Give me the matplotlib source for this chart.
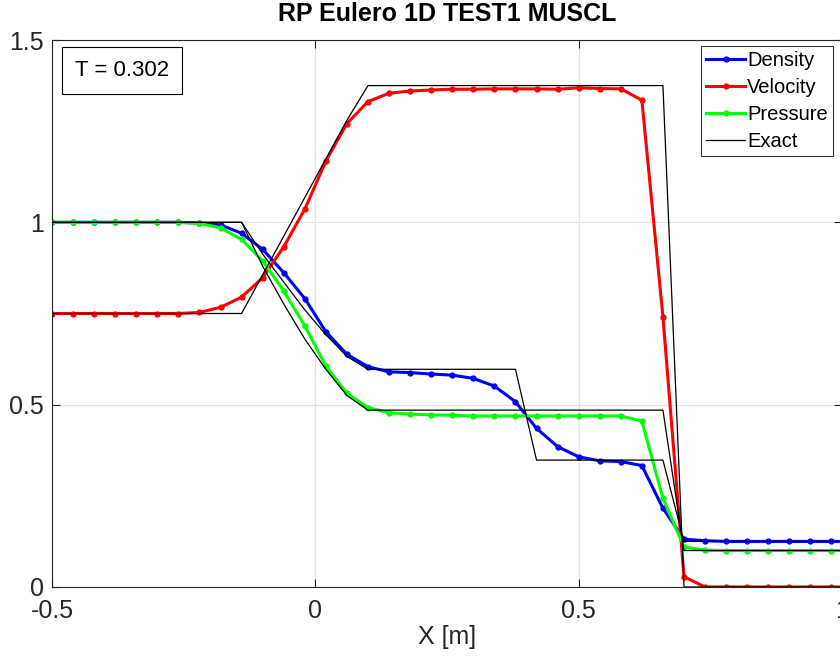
import numpy as np
import matplotlib.pyplot as plt

# grid of cell positions
x = -0.5 + 0.04 * np.arange(39)

# numerical solution (MUSCL) at T = 0.302
rho = [1.0, 1.0, 1.0, 1.0, 1.0, 1.0, 1.0, 0.998, 0.993, 0.970,
       0.926, 0.862, 0.791, 0.700, 0.638, 0.604, 0.590, 0.588, 0.584, 0.581,
       0.572, 0.551, 0.508, 0.435, 0.385, 0.357, 0.346, 0.344, 0.333, 0.216,
       0.131, 0.127, 0.125, 0.125, 0.125, 0.125, 0.125, 0.125, 0.125]
vel = [0.75, 0.75, 0.75, 0.75, 0.75, 0.75, 0.75, 0.753, 0.767, 0.795,
       0.848, 0.933, 1.036, 1.168, 1.271, 1.331, 1.354, 1.360, 1.363, 1.365,
       1.365, 1.366, 1.366, 1.366, 1.365, 1.369, 1.367, 1.366, 1.335, 0.741,
       0.028, 0.0, 0.0, 0.0, 0.0, 0.0, 0.0, 0.0, 0.0]
pre = [1.0, 1.0, 1.0, 1.0, 1.0, 1.0, 1.0, 0.997, 0.985, 0.953,
       0.894, 0.812, 0.716, 0.606, 0.531, 0.492, 0.478, 0.474, 0.472, 0.471,
       0.469, 0.469, 0.469, 0.469, 0.469, 0.469, 0.469, 0.469, 0.455, 0.243,
       0.110, 0.101, 0.1, 0.1, 0.1, 0.1, 0.1, 0.1, 0.1]

# exact Riemann solution on the same grid
rho_ex = [1.0] * 10 + [0.913, 0.836, 0.760, 0.692, 0.632] + [0.597] * 8 + [0.348] * 7 + [0.125] * 9
vel_ex = [0.75] * 10 + [0.856, 0.962, 1.068, 1.174, 1.280] + [1.375] * 15 + [0.0] * 9
pre_ex = [1.0] * 10 + [0.880, 0.776, 0.680, 0.597, 0.525] + [0.485] * 15 + [0.1] * 9

T = 0.302

plt.rcParams['font.family'] = ['Liberation Sans', 'DejaVu Sans']

fig = plt.figure(figsize=(8.4, 6.59), dpi=100)
ax = fig.add_axes([52 / 840, 72 / 659, 790 / 840, 547 / 659])

ax.plot(x, rho, 'b.-', lw=2.2, ms=7, label='Density')
ax.plot(x, vel, 'r.-', lw=2.2, ms=7, label='Velocity')
ax.plot(x, pre, '.-', color='#00ff00', lw=2.2, ms=7, label='Pressure')
ax.plot(x, rho_ex, 'k-', lw=0.9, label='Exact')
ax.plot(x, vel_ex, 'k-', lw=0.9)
ax.plot(x, pre_ex, 'k-', lw=0.9)

ax.set_xlim(-0.5, 1)
ax.set_ylim(0, 1.5)
ax.set_xticks([-0.5, 0, 0.5, 1])
ax.set_xticklabels(['-0.5', '0', '0.5', '1'])
ax.set_yticks([0, 0.5, 1, 1.5])
ax.set_yticklabels(['0', '0.5', '1', '1.5'])
ax.grid(True, color='#e3e3e3', lw=0.9)
ax.set_axisbelow(True)
ax.tick_params(direction='in', length=5.5, width=0.8, top=True, right=True,
               labelsize=18, colors='#262626')
ax.tick_params(axis='x', pad=9)
ax.tick_params(axis='y', pad=6)
for s in ax.spines.values():
    s.set_color('#262626')
    s.set_linewidth(0.8)

ax.set_title('RP Eulero 1D TEST1 MUSCL', fontsize=18, fontweight='bold', pad=14)
ax.set_xlabel('X [m]', fontsize=18, color='#262626', labelpad=1)

# time label box in the upper left corner
ax.text(23 / 790, 1 - 20 / 547, f'T = {T}', transform=ax.transAxes, fontsize=16,
        va='top', ha='left',
        bbox=dict(boxstyle='square,pad=0.6', fc='white', ec='black', lw=0.8))

leg = ax.legend(loc='upper right', bbox_to_anchor=(833 / 840, 1 - 46 / 659),
                bbox_transform=fig.transFigure, fontsize=14.5, frameon=True,
                fancybox=False, edgecolor='black', borderaxespad=0,
                handlelength=1.95, handletextpad=0.1, labelspacing=0.4,
                borderpad=0.25)
leg.get_frame().set_linewidth(0.8)

plt.savefig('out.png', dpi=100)
